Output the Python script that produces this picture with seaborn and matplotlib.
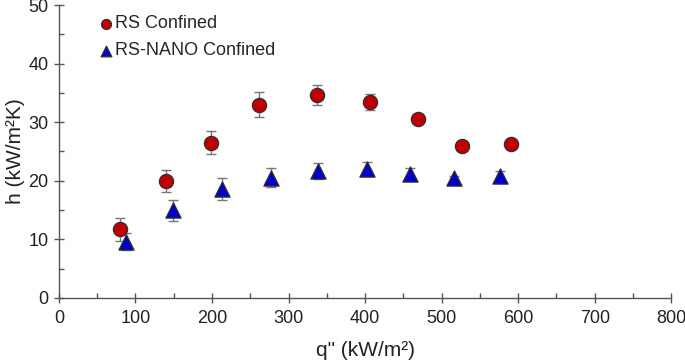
import matplotlib
matplotlib.use("Agg")
import matplotlib.pyplot as plt
import seaborn as sns
import pandas as pd
from matplotlib.ticker import MultipleLocator

# RS Confined
rs_q = [80, 140, 199, 261, 337, 407, 469, 527, 591]
rs_h = [11.7, 19.9, 26.5, 33.0, 34.7, 33.4, 30.5, 25.9, 26.2]
rs_err = [1.9, 1.9, 2.0, 2.1, 1.7, 1.4, 0.8, 0.3, 0.3]

# RS-NANO Confined
nano_q = [88, 149, 213, 277, 339, 402, 458, 516, 576]
nano_h = [9.6, 15.0, 18.6, 20.5, 21.7, 22.0, 21.2, 20.4, 20.8]
nano_err = [1.5, 1.8, 1.8, 1.6, 1.4, 1.2, 1.0, 0.5, 0.8]

series = {
    "RS Confined": (rs_q, rs_h, rs_err, "o", "#c00000", 105),
    "RS-NANO Confined": (nano_q, nano_h, nano_err, "^", "#0000c8", 120),
}

sns.set_style("ticks")
plt.rcParams["font.family"] = ["Liberation Sans", "DejaVu Sans"]

fig = plt.figure(figsize=(6.85, 3.62), dpi=100)
ax = fig.add_axes([0.086, 0.177, 0.894, 0.809])

for name, (q, h, err, marker, color, size) in series.items():
    df = pd.DataFrame({"q": q, "h": h, "err": err})
    ax.errorbar(df["q"], df["h"], yerr=df["err"], fmt="none", ecolor="#777777",
                elinewidth=1.0, capsize=3.5, capthick=1.0, zorder=2)
    sns.scatterplot(data=df, x="q", y="h", ax=ax, marker=marker, color=color,
                    s=size, edgecolor="#303030", linewidth=0.9, label=name, zorder=3)

ax.set_xlim(0, 800)
ax.set_ylim(0, 50)
ax.xaxis.set_major_locator(MultipleLocator(100))
ax.xaxis.set_minor_locator(MultipleLocator(50))
ax.yaxis.set_major_locator(MultipleLocator(10))
ax.yaxis.set_minor_locator(MultipleLocator(5))
ax.tick_params(which="major", direction="inout", length=7, width=1, color="#555555",
               labelsize=13, labelcolor="#222222")
ax.tick_params(axis="x", which="major", pad=5)
ax.tick_params(axis="y", which="major", pad=4)
ax.tick_params(which="minor", direction="in", length=3.5, width=1, color="#555555")
sns.despine(ax=ax)
for side in ["left", "bottom"]:
    ax.spines[side].set_color("#555555")
    ax.spines[side].set_linewidth(1.0)

ax.set_xlabel("q\" (kW/m²)", fontsize=15, color="#222222", labelpad=10)
ax.set_ylabel("h (kW/m²K)", fontsize=15, color="#222222")
ax.yaxis.set_label_coords(-0.055, 0.5)

leg = ax.legend(loc="upper left", bbox_to_anchor=(0.035, 1.02), frameon=False,
                fontsize=13, handletextpad=0.0, markerscale=0.7,
                labelspacing=0.55, handlelength=1.0)

fig.savefig("out.png", dpi=100)
plt.close(fig)
